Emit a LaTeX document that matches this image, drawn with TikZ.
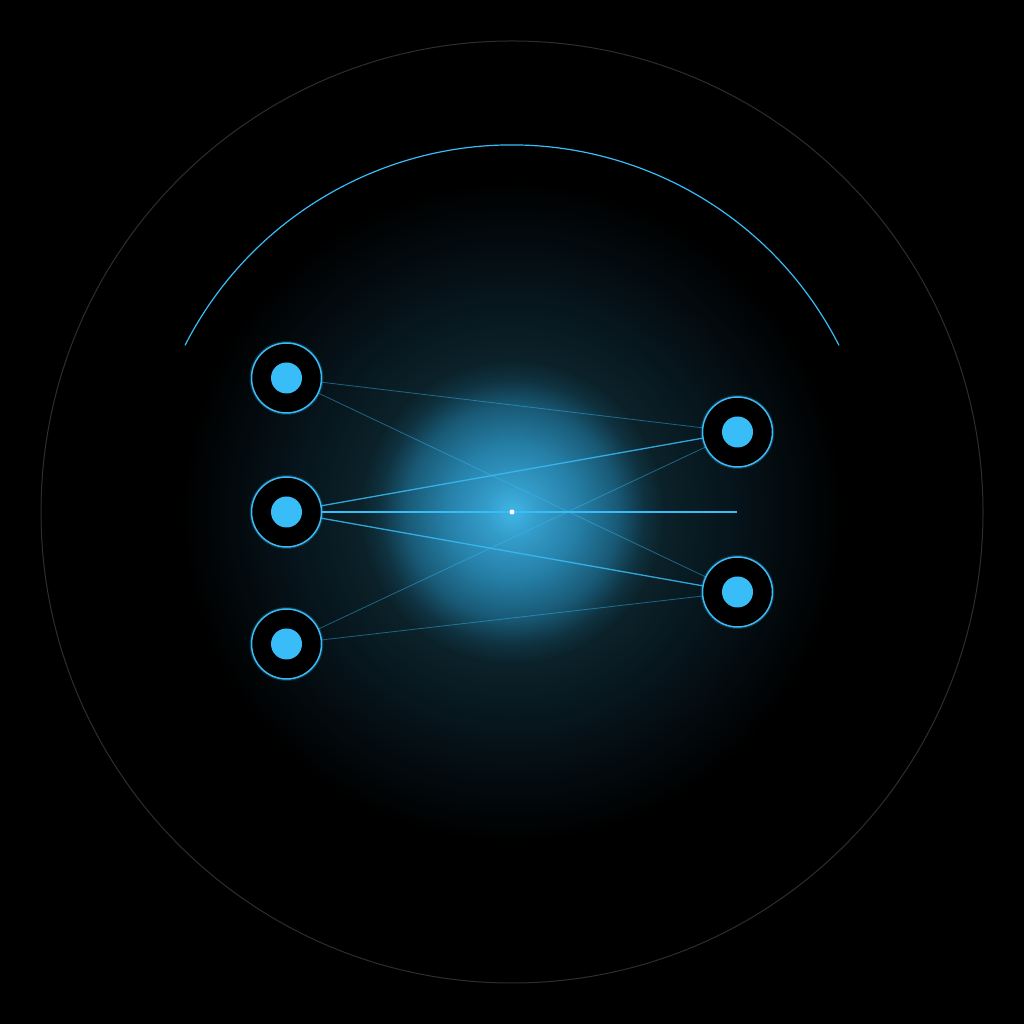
\documentclass[tikz,border=0pt]{standalone}
\definecolor{sky}{HTML}{38BDF8}
\definecolor{rimgray}{HTML}{2E2E2E}
\definecolor{haloA}{HTML}{40B6E8}
\definecolor{haloB}{HTML}{349CC9}
\definecolor{haloC}{HTML}{2680A8}
\definecolor{haloD}{HTML}{195A76}
\definecolor{haloE}{HTML}{0F3240}
\definecolor{haloF}{HTML}{0B2129}
\definecolor{haloG}{HTML}{06131A}
\pgfdeclareradialshading{halo}{\pgfpointorigin}{color(0bp)=(haloA); color(2bp)=(haloB);
  color(5bp)=(haloC); color(8bp)=(haloD); color(10bp)=(haloE); color(11.5bp)=(haloF);
  color(17bp)=(haloG); color(25bp)=(black); color(50bp)=(black)}
\tikzset{
  hub/.style={circle, fill=black, draw=sky, line width=1.5bp, minimum size=70bp, inner sep=0pt,
    preaction={draw=sky, line width=4bp, opacity=0.2}},
  faint/.style={sky, opacity=0.45, line width=0.8bp},
  bright/.style={sky, opacity=0.85, line width=1.3bp},
}
\begin{document}
\begin{tikzpicture}[x=1bp, y=1bp]
    \fill[black] (0,0) rectangle (1024,1024);
    \useasboundingbox (0,0) rectangle (1024,1024);
    % glow and rings
    \shade[shading=halo] (512,512) circle (330);
    \draw[rimgray, line width=1bp] (512,512) circle (471);
    \draw[sky, line width=1.2bp] (512,512) +(27:367) arc[start angle=27, end angle=153, radius=367];
    % nodes
    \node[hub] (l1) at (286.5,646) {};
    \node[hub] (l2) at (286.5,512) {};
    \node[hub] (l3) at (286.5,380) {};
    \node[hub] (r1) at (737.5,592) {};
    \node[hub] (r2) at (737.5,432) {};
    \coordinate (mid) at (737,512);
    \foreach \n in {l1,l2,l3,r1,r2}
        \fill[sky] (\n.center) circle (15.5);
    % links
    \draw[faint] (l1) -- (r1);
    \draw[faint] (l1) -- (r2);
    \draw[faint] (l3) -- (r1);
    \draw[faint] (l3) -- (r2);
    \draw[bright] (l2) -- (r1);
    \draw[bright] (l2) -- (r2);
    \draw[sky, line width=1.8bp] (l2) -- (mid);
    \node[circle, fill=white, inner sep=0pt, minimum size=5bp] (hubdot) at (512,512) {};
\end{tikzpicture}
\end{document}
